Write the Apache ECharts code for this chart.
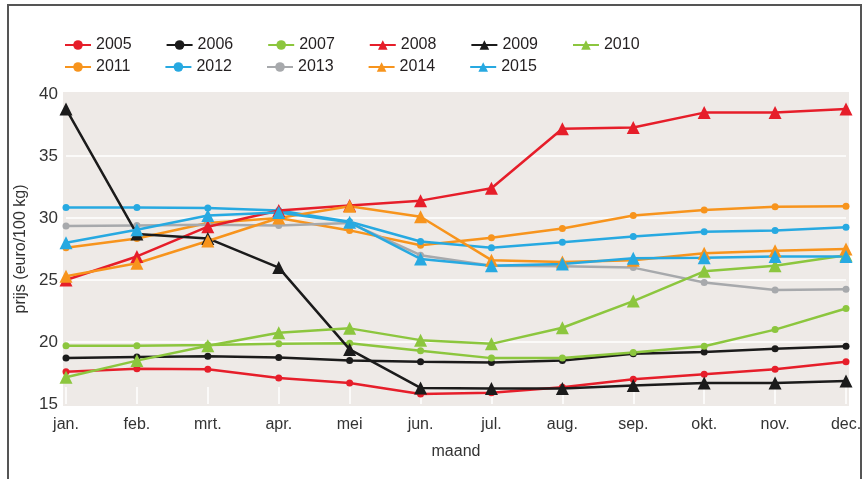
<!DOCTYPE html>
<html>
<head>
<meta charset="utf-8">
<script src="https://cdn.jsdelivr.net/npm/echarts@6/dist/echarts.min.js"></script>
<style>
  html, body { margin: 0; padding: 0; background: #fff; }
  #chart { width: 867px; height: 479px; }
</style>
</head>
<body>
<div id="chart"></div>
<script>
// months on the x axis
const months = ['jan.', 'feb.', 'mrt.', 'apr.', 'mei', 'jun.', 'jul.', 'aug.', 'sep.', 'okt.', 'nov.', 'dec.'];

// prijs (euro/100 kg) per year
const y2005 = [17.6, 17.85, 17.8, 17.1, 16.7, 15.8, 15.9, 16.35, 17.0, 17.4, 17.8, 18.4];
const y2006 = [18.7, 18.8, 18.85, 18.75, 18.5, 18.4, 18.35, 18.5, 19.05, 19.2, 19.45, 19.65];
const y2007 = [19.7, 19.7, 19.75, 19.85, 19.9, 19.3, 18.7, 18.7, 19.15, 19.65, 21.0, 22.7];
const y2008 = [25.0, 26.9, 29.3, 30.6, 31.0, 31.4, 32.4, 37.2, 37.3, 38.5, 38.5, 38.8];
const y2009 = [38.8, 28.7, 28.35, 26.0, 19.4, 16.3, 16.25, 16.25, 16.5, 16.7, 16.7, 16.85];
const y2010 = [17.15, 18.5, 19.7, 20.75, 21.1, 20.15, 19.85, 21.15, 23.3, 25.7, 26.15, 27.0];
const y2011 = [27.6, 28.35, 29.6, 30.0, 29.0, 27.8, 28.4, 29.15, 30.2, 30.65, 30.9, 30.95];
const y2012 = [30.85, 30.85, 30.8, 30.6, 29.7, 28.1, 27.6, 28.05, 28.5, 28.9, 29.0, 29.25];
const y2013 = [29.35, 29.4, 29.45, 29.4, 29.6, 27.0, 26.15, 26.1, 26.0, 24.8, 24.2, 24.25];
const y2014 = [25.3, 26.35, 28.15, 30.0, 30.95, 30.1, 26.6, 26.45, 26.6, 27.15, 27.35, 27.5];
const y2015 = [28.0, 29.05, 30.2, 30.45, 29.65, 26.7, 26.15, 26.3, 26.75, 26.8, 26.9, 26.9];

const red = '#e61e2a', black = '#1b1b1b', green = '#8cc63e', orange = '#f7941d', blue = '#27a9e1', gray = '#a7a9ac';
const font = "'Liberation Sans', Arial, sans-serif";

function line(name, data, color, tri) {
  return {
    name: name,
    type: 'line',
    data: data,
    color: color,
    symbol: tri ? 'triangle' : 'circle',
    symbolSize: tri ? 13 : 7,
    showAllSymbol: true,
    lineStyle: { width: 2.5, color: color },
    itemStyle: { color: color },
    z: tri ? 3 : 2
  };
}

const series = [
  line('2005', y2005, red, false),
  line('2006', y2006, black, false),
  line('2007', y2007, green, false),
  line('2008', y2008, red, true),
  line('2009', y2009, black, true),
  line('2010', y2010, green, true),
  line('2011', y2011, orange, false),
  line('2012', y2012, blue, false),
  line('2013', y2013, gray, false),
  line('2014', y2014, orange, true),
  line('2015', y2015, blue, true)
];

const legendBase = {
  left: 59,
  itemWidth: 26,
  itemHeight: 12,
  itemGap: 34,
  textStyle: { fontFamily: font, fontSize: 16, color: '#231f20' }
};

const chart = echarts.init(document.getElementById('chart'));
chart.setOption({
  animation: false,
  backgroundColor: '#fff',
  textStyle: { fontFamily: font },
  graphic: [
    { type: 'rect', z: -10, shape: { x: 8, y: 5, width: 853, height: 490 },
      style: { fill: 'none', stroke: '#555', lineWidth: 2 } },
    { type: 'rect', z: -10, shape: { x: 63, y: 92, width: 786, height: 314 },
      style: { fill: '#eeeae7' } }
  ],
  legend: [
    Object.assign({}, legendBase, { top: 32, data: ['2005', '2006', '2007', '2008', '2009', '2010'] }),
    Object.assign({}, legendBase, { top: 54, data: ['2011', '2012', '2013', '2014', '2015'] })
  ],
  grid: { left: 66, right: 21, top: 94, bottom: 75 },
  xAxis: {
    type: 'category',
    data: months,
    boundaryGap: false,
    name: 'maand',
    nameLocation: 'middle',
    nameGap: 40,
    nameTextStyle: { fontFamily: font, fontSize: 16, color: '#333' },
    axisLine: { show: false },
    axisTick: { show: true, inside: true, length: 17, lineStyle: { color: '#fff', width: 1.5 } },
    axisLabel: { fontFamily: font, fontSize: 16, color: '#333', margin: 13 }
  },
  yAxis: {
    type: 'value',
    min: 15,
    max: 40,
    interval: 5,
    name: 'prijs (euro/100 kg)',
    nameLocation: 'middle',
    nameGap: 29,
    nameTextStyle: { fontFamily: font, fontSize: 16, color: '#333' },
    axisLine: { show: false },
    axisTick: { show: false },
    axisLabel: { fontFamily: font, fontSize: 17, color: '#333', margin: 8 },
    splitLine: { show: true, showMinLine: false, showMaxLine: false, lineStyle: { color: '#fff', width: 1.5 } }
  },
  series: series
});
</script>
</body>
</html>
